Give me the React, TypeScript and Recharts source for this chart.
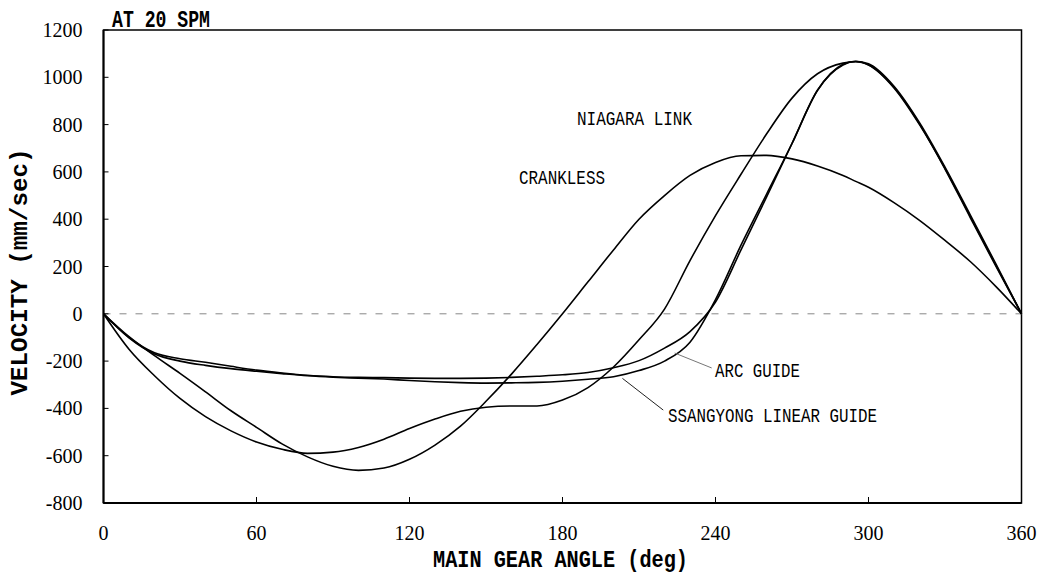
import React from 'react';
import { LineChart, Line, XAxis, YAxis, ReferenceLine, ReferenceArea } from 'recharts';

// main gear angle, deg
const angles = [0, 10, 20, 30, 40, 50, 60, 70, 80, 90, 100, 110, 120, 130, 140, 150, 160, 170, 180, 190, 200, 210, 220, 230, 240, 250, 260, 270, 280, 290, 295, 300, 310, 320, 330, 340, 350, 360];

// velocity, mm/sec
const crankless = [0, -97, -177, -252, -330, -410, -480, -550, -605, -645, -662, -652, -615, -555, -475, -370, -255, -130, 0, 135, 270, 400, 500, 585, 640, 668, 670, 655, 625, 585, 560, 535, 470, 395, 310, 220, 115, 0];
const niagaraLink = [0, -150, -262, -358, -435, -495, -542, -573, -590, -585, -565, -530, -485, -445, -412, -395, -390, -390, -365, -312, -225, -110, 20, 225, 415, 590, 760, 912, 1015, 1060, 1066, 1052, 955, 800, 615, 410, 205, 0];
const arcGuide = [0, -100, -165, -190, -205, -222, -238, -250, -260, -266, -269, -270, -272, -273, -273, -272, -269, -264, -258, -248, -228, -198, -145, -75, 50, 270, 493, 720, 945, 1055, 1068, 1057, 962, 808, 620, 416, 210, 0];
const ssangyongLinear = [0, -102, -170, -200, -218, -232, -243, -253, -262, -268, -272, -276, -282, -287, -291, -293, -292, -290, -285, -277, -266, -240, -200, -120, 60, 290, 505, 720, 945, 1052, 1067, 1053, 958, 803, 612, 405, 200, 0];

const xTicks = [0, 60, 120, 180, 240, 300, 360];
const yTicks = [-800, -600, -400, -200, 0, 200, 400, 600, 800, 1000, 1200];

const data = angles.map((a, i) => ({
  angle: a,
  crankless: crankless[i],
  niagara: niagaraLink[i],
  arc: arcGuide[i],
  ssangyong: ssangyongLinear[i],
}));

const tickFont = 'Liberation Serif';
const labelFont = 'Liberation Mono';

const Y_MARGIN = 21;
const X_MARGIN = 23;

const YTick = (props: any) => {
  const { x, y, payload } = props;
  const axisX = x + Y_MARGIN;
  return (
    <g>
      <line x1={axisX} x2={axisX + 5} y1={y} y2={y} stroke="#000" strokeWidth={1} />
      <text x={x} y={y} textAnchor="end" dominantBaseline="central" fontFamily={tickFont} fontSize={20} fill="#000">
        {payload.value}
      </text>
    </g>
  );
};

const XTick = (props: any) => {
  const { x, y, payload } = props;
  const axisY = y - X_MARGIN;
  return (
    <g>
      <line x1={x} x2={x} y1={axisY} y2={axisY - 6} stroke="#000" strokeWidth={1} />
      <text x={x} y={y} dy="0.71em" textAnchor="middle" fontFamily={tickFont} fontSize={20} fill="#000">
        {payload.value}
      </text>
    </g>
  );
};

const series = [
  { key: 'crankless', name: 'CRANKLESS' },
  { key: 'niagara', name: 'NIAGARA LINK' },
  { key: 'arc', name: 'ARC GUIDE' },
  { key: 'ssangyong', name: 'SSANGYONG LINEAR GUIDE' },
];

export default function App() {
  return (
    <div style={{ position: 'absolute', left: 0, top: 0, width: 1045, height: 583, background: '#fff' }}>
      <LineChart
        width={1045}
        height={583}
        data={data}
        margin={{ top: 30, right: 23.5, bottom: 40, left: 43.5 }}
      >
        <XAxis
          dataKey="angle"
          type="number"
          domain={[0, 360]}
          ticks={xTicks}
          height={40}
          tickSize={0}
          tickMargin={X_MARGIN}
          tick={<XTick />}
          axisLine={{ stroke: '#000', strokeWidth: 2 }}
          tickLine={false}
        />
        <YAxis
          type="number"
          domain={[-800, 1200]}
          ticks={yTicks}
          width={60}
          tickSize={0}
          tickMargin={Y_MARGIN}
          tick={<YTick />}
          axisLine={{ stroke: '#000', strokeWidth: 2 }}
          tickLine={false}
        />
        <ReferenceArea x1={0} x2={360} y1={-800} y2={1200} fill="none" stroke="#000" strokeWidth={1.5} fillOpacity={0} />
        <ReferenceLine y={0} stroke="#888" strokeWidth={1} strokeDasharray="7 9" />
        {series.map((s) => (
          <Line
            key={s.key}
            type="monotone"
            dataKey={s.key}
            name={s.name}
            stroke="#000"
            strokeWidth={1.6}
            dot={false}
            isAnimationActive={false}
          />
        ))}
        <ReferenceLine segment={[{ x: 224, y: -166 }, { x: 238.5, y: -229 }]} stroke="#777" strokeWidth={1} />
        <ReferenceLine segment={[{ x: 203.5, y: -273 }, { x: 219.5, y: -407 }]} stroke="#222" strokeWidth={1} />
      </LineChart>
      <svg width={1045} height={583} style={{ position: 'absolute', left: 0, top: 0, pointerEvents: 'none' }}>
        <g fill="#000" fontFamily={labelFont}>
          <text x={112} y={27} fontSize={23} fontWeight="bold" textLength={98} lengthAdjust="spacingAndGlyphs">AT 20 SPM</text>
          <text x={577} y={124.5} fontSize={21} textLength={115} lengthAdjust="spacingAndGlyphs">NIAGARA LINK</text>
          <text x={519} y={183.5} fontSize={21} textLength={86} lengthAdjust="spacingAndGlyphs">CRANKLESS</text>
          <text x={715} y={376.5} fontSize={21} textLength={85} lengthAdjust="spacingAndGlyphs">ARC GUIDE</text>
          <text x={668} y={421.5} fontSize={21} textLength={209} lengthAdjust="spacingAndGlyphs">SSANGYONG LINEAR GUIDE</text>
          <text x={433} y={567} fontSize={24} fontWeight="bold" textLength={255} lengthAdjust="spacingAndGlyphs">MAIN GEAR ANGLE (deg)</text>
          <text
            transform="translate(27,272) rotate(-90)"
            x={0}
            y={0}
            textAnchor="middle"
            fontSize={24}
            fontWeight="bold"
            textLength={247}
            lengthAdjust="spacingAndGlyphs"
          >
            VELOCITY (mm/sec)
          </text>
        </g>
      </svg>
    </div>
  );
}
